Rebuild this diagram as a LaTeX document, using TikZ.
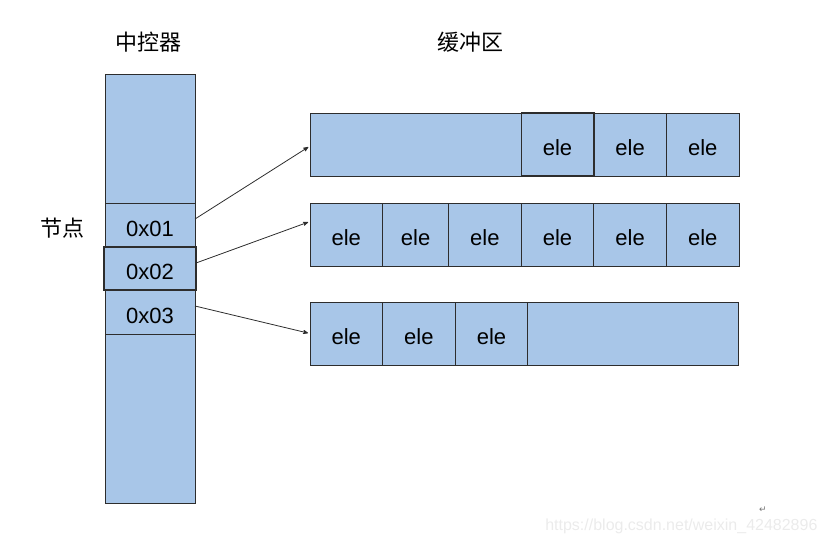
\documentclass[tikz,border=0pt]{standalone}
\usepackage{fontspec}
\setmainfont{Liberation Sans}
\newfontfamily\cjk{Noto Sans CJK SC}
\newfontfamily\symb{DejaVu Sans}
\usetikzlibrary{arrows,positioning}
\definecolor{cellblue}{RGB}{168,198,232}
\definecolor{edgegray}{RGB}{45,45,45}

\begin{document}
\begin{tikzpicture}[x=1pt,y=-1pt,>=stealth',
    cell/.style={draw=edgegray,fill=cellblue,line width=0.9pt,inner sep=0pt,outer sep=0pt,
      minimum width=72.6pt,minimum height=63pt,text height=22pt,text depth=0pt,
      font=\fontsize{22}{26}\selectfont},
    slot/.style={cell,minimum width=90pt},
    title/.style={font=\cjk\fontsize{22}{26}\selectfont},
    link/.style={->,draw=edgegray,line width=0.8pt,shorten >=2pt}]

  \useasboundingbox (0,0) rectangle (830,544);

  \node[title] (ctrl) at (148,42) {中控器};
  \node[title] (buf) at (470,42) {缓冲区};
  \node[title] (lbl) at (62,228) {节点};

  % controller column
  \node[slot,anchor=north west,minimum height=129pt] (top) at (105,74) {};
  \node[slot,minimum height=44pt,below=0pt of top] (n01) {0x01};
  \node[slot,minimum height=44pt,below=43pt of n01] (n03) {0x03};
  \node[slot,minimum height=169pt,below=0pt of n03] (bot) {};
  \node[slot,minimum height=43pt,minimum width=92pt,line width=1.4pt,below=0pt of n01] (n02) {0x02};

  % buffer rows
  \node[cell,anchor=north west,minimum width=211pt] (r1e) at (310,113) {};
  \node[cell,anchor=north east] (e13) at (739,113) {ele};
  \node[cell,left=0pt of e13] (e12) {ele};
  \node[cell,left=0pt of e12,line width=1.4pt] (e11) {ele};

  \node[cell,anchor=north west] (e21) at (310,203) {ele};
  \node[cell,right=0pt of e21,minimum width=66pt] (e22) {ele};
  \node[cell,right=0pt of e22] (e23) {ele};
  \node[cell,right=0pt of e23] (e24) {ele};
  \node[cell,right=0pt of e24] (e25) {ele};
  \node[cell,right=0pt of e25] (e26) {ele};

  \node[cell,anchor=north west] (e31) at (310,302) {ele};
  \node[cell,right=0pt of e31] (e32) {ele};
  \node[cell,right=0pt of e32] (e33) {ele};
  \node[cell,right=0pt of e33,minimum width=211pt] (r3e) {};

  \draw[link] ([yshift=6pt]n01.east) -- ([yshift=-1.5pt]r1e.west);
  \draw[link] ([yshift=5.5pt]n02.east) -- ([yshift=13pt]e21.west);
  \draw[link] ([yshift=6pt]n03.east) -- (e31.west);

  \node[font=\symb\fontsize{9}{9}\selectfont,text=black!55] (ret) at (763,510) {↵};
  \node[font=\fontsize{16}{18}\selectfont,text=black!8,anchor=east] (mark) at (821,526)
    {https://blog.csdn.net/weixin\_42482896};

\end{tikzpicture}
\end{document}
